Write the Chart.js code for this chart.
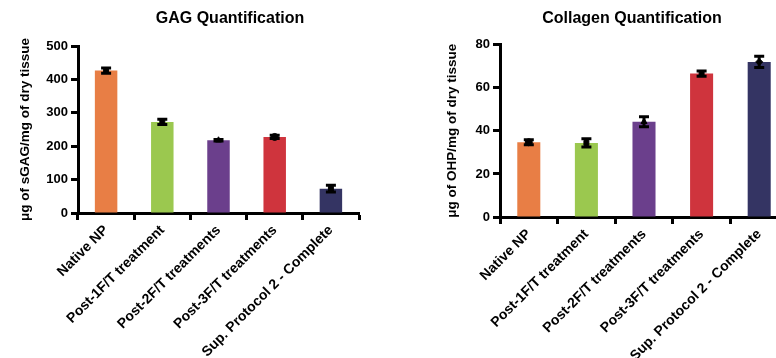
<!DOCTYPE html>
<html>
<head>
<meta charset="utf-8">
<script src="https://cdn.jsdelivr.net/npm/chart.js@4.4.1/dist/chart.umd.min.js"></script>
<style>
  html, body { margin: 0; padding: 0; background: #fff; overflow: hidden; width: 776px; height: 358px; }
  canvas { position: absolute; top: 0; }
  #gagChart { left: 0; z-index: 1; }
  #colChart { left: 390px; z-index: 2; }
</style>
</head>
<body>
<canvas id="gagChart" width="460" height="358"></canvas>
<canvas id="colChart" width="484" height="358"></canvas>
<script>
const labels = [
  'Native NP', 'Post-1F/T treatment', 'Post-2F/T treatments',
  'Post-3F/T treatments', 'Sup. Protocol 2 - Complete'
];
const colors = ['#E87E45', '#9BC84F', '#6B3F8C', '#CF343D', '#343463'];

const gagMean = [427, 273, 218, 228, 73];
const gagErr = [8, 8, 2, 5, 10];
const gagTicks = [0, 100, 200, 300, 400, 500];

const colMean = [34.7, 34.4, 44.2, 66.6, 72];
const colErr = [1.2, 1.9, 2.3, 1.2, 2.6];
const colTicks = [0, 20, 40, 60, 80];

const FONT = "'Liberation Sans', Arial, sans-serif";

// error bars drawn on top of the bars
const errorBars = {
  id: 'errorBars',
  afterDatasetsDraw(chart, args, opts) {
    const { ctx, scales: { x, y } } = chart;
    const data = chart.data.datasets[0].data;
    ctx.save();
    ctx.strokeStyle = '#000';
    ctx.lineWidth = 3;
    opts.errors.forEach((e, i) => {
      const px = x.getPixelForValue(i);
      const top = y.getPixelForValue(data[i] + e);
      const bot = y.getPixelForValue(data[i] - e);
      ctx.beginPath();
      ctx.moveTo(px, top); ctx.lineTo(px, bot);
      ctx.moveTo(px - 5, top); ctx.lineTo(px + 5, top);
      ctx.moveTo(px - 5, bot); ctx.lineTo(px + 5, bot);
      ctx.stroke();
    });
    ctx.restore();
  }
};

function makeChart(id, opts) {
  return new Chart(document.getElementById(id), {
    type: 'bar',
    data: {
      labels: labels,
      datasets: [
        {
          data: opts.mean,
          backgroundColor: colors,
          categoryPercentage: 1,
          barPercentage: 0.4,
          order: 2
        },
        {
          type: 'line',
          data: opts.mean,
          showLine: false,
          pointStyle: opts.markers,
          pointRadius: 3.5,
          pointBackgroundColor: '#000',
          pointBorderColor: '#000',
          order: 1
        }
      ]
    },
    options: {
      responsive: false,
      animation: false,
      layout: { padding: 0 },
      plugins: {
        legend: { display: false },
        tooltip: { enabled: false },
        title: {
          display: true,
          text: opts.title,
          color: '#000',
          font: { family: FONT, size: 16, weight: 'bold' },
          padding: { top: 9, bottom: opts.titleGap }
        },
        errorBars: { errors: opts.err }
      },
      scales: {
        x: {
          afterFit: (s) => { s.height = opts.xHeight; },
          grid: { display: true, drawOnChartArea: false, drawTicks: true, tickLength: 7, tickWidth: 3, tickColor: '#000' },
          border: { color: '#000', width: 3 },
          ticks: {
            autoSkip: false, maxRotation: 45, minRotation: 45, padding: 2,
            color: '#000', font: { family: FONT, size: 14, weight: 'bold' }
          }
        },
        y: {
          min: 0,
          max: opts.ticks[opts.ticks.length - 1],
          afterFit: (s) => { s.width = opts.yWidth; },
          afterBuildTicks: (s) => { s.ticks = opts.ticks.map(v => ({ value: v })); },
          grid: { display: true, drawOnChartArea: false, drawTicks: true, tickLength: 7, tickWidth: 3, tickColor: '#000' },
          border: { color: '#000', width: 3 },
          ticks: { padding: 3, color: '#000', font: { family: FONT, size: 13, weight: 'bold' } },
          title: {
            display: true,
            text: opts.yTitle,
            color: '#000',
            font: { family: FONT, size: 13.5, weight: 'bold' },
            padding: { top: opts.yTitlePad, bottom: 0 }
          }
        },
        // empty spacer on the right so the title centres over the whole panel
        spacer: {
          type: 'linear',
          position: 'right',
          afterFit: (s) => { s.width = opts.padRight; },
          grid: { display: false, drawTicks: false },
          border: { display: false },
          ticks: { display: false }
        }
      }
    },
    plugins: [errorBars]
  });
}

makeChart('gagChart', {
  title: 'GAG Quantification',
  yTitle: 'μg of sGAG/mg of dry tissue',
  mean: gagMean, err: gagErr, ticks: gagTicks,
  markers: ['rect', 'rect', 'triangle', 'circle', 'rect'],
  padRight: 101, titleGap: 18, xHeight: 145, yWidth: 78, yTitlePad: 17
});

makeChart('colChart', {
  title: 'Collagen Quantification',
  yTitle: 'μg of OHP/mg of dry tissue',
  mean: colMean, err: colErr, ticks: colTicks,
  markers: ['circle', 'rect', 'triangle', 'rect', 'rectRot'],
  padRight: 86, titleGap: 16.5, xHeight: 141, yWidth: 110, yTitlePad: 54
});
</script>
</body>
</html>
